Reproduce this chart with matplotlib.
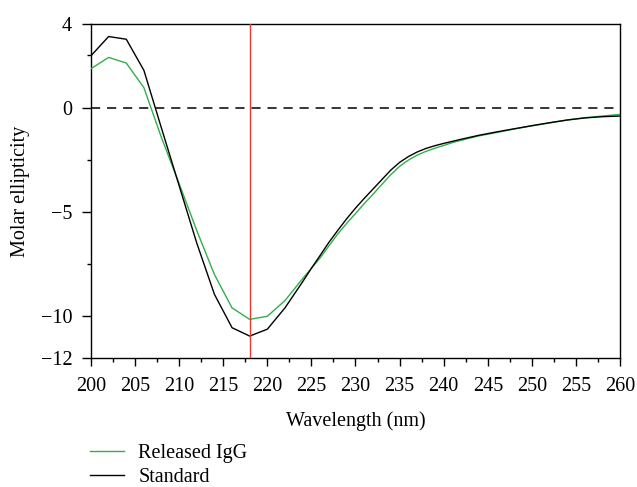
import matplotlib
matplotlib.use("Agg")
import matplotlib.pyplot as plt
from matplotlib.ticker import FixedLocator

wavelength = [200, 202, 204, 206, 208, 210, 212, 214, 216, 218, 220, 222, 224, 225, 226,
              227, 228, 229, 230, 231, 232, 233, 234, 235, 236, 237, 238, 239, 240, 241,
              242, 244, 246, 248, 250, 252, 254, 256, 258, 260]
standard = [2.48, 3.40, 3.27, 1.78, -1.0, -3.75, -6.5, -8.95, -10.55, -10.95, -10.62,
            -9.6, -8.35, -7.7, -7.08, -6.45, -5.88, -5.33, -4.82, -4.35, -3.9, -3.45,
            -3.0, -2.63, -2.35, -2.13, -1.96, -1.83, -1.72, -1.62, -1.52,
            -1.33, -1.17, -1.02, -0.87, -0.73, -0.6, -0.5, -0.44, -0.41]
released = [1.86, 2.40, 2.13, 0.95, -1.45, -3.65, -5.9, -8.0, -9.6, -10.15, -10.0,
            -9.25, -8.2, -7.7, -7.2, -6.62, -6.05, -5.55, -5.08, -4.6, -4.15, -3.68,
            -3.22, -2.82, -2.52, -2.28, -2.1, -1.95, -1.82, -1.68, -1.57,
            -1.36, -1.2, -1.03, -0.88, -0.74, -0.6, -0.49, -0.41, -0.33]
marker_wavelength = 218
y_major = [4, 0, -5, -10, -12]
y_minor = [2.5, -2.5, -7.5]
x_major = list(range(200, 261, 5))
x_minor = [x + 2.5 for x in range(200, 260, 5)]

plt.rcParams['font.family'] = ['Liberation Serif', 'DejaVu Serif']
fs = 14.5

W, H = 637, 487
fig = plt.figure(figsize=(W / 100, H / 100), dpi=100)
ax = fig.add_axes([91 / W, 1 - 358 / H, (620 - 91) / W, (358 - 24) / H])

green = '#2fb04a'
l1, = ax.plot(wavelength, released, color=green, lw=1.0, label='Released IgG', zorder=3)
l2, = ax.plot(wavelength, standard, color='black', lw=1.0, label='Standard', zorder=3)
ax.axhline(0, color='black', lw=1.1, dashes=(6, 4.5), zorder=2)
ax.axvline(marker_wavelength, color='#e53935', lw=1.0, zorder=4)

ax.set_xlim(200, 260)
ax.set_ylim(-12, 4)
ax.xaxis.set_major_locator(FixedLocator(x_major))
ax.xaxis.set_minor_locator(FixedLocator(x_minor))
ax.yaxis.set_major_locator(FixedLocator(y_major))
ax.yaxis.set_minor_locator(FixedLocator(y_minor))
ax.set_yticklabels(['4', '0', '\u22125', '\u221210', '\u221212'])

ax.tick_params(axis='x', which='major', length=5.5, width=1.0, direction='out',
               labelsize=fs, pad=8)
ax.tick_params(axis='x', which='minor', length=2.8, width=1.0, direction='out')
ax.tick_params(axis='y', which='major', length=6.5, width=1.0, direction='out',
               labelsize=fs, pad=7)
ax.tick_params(axis='y', which='minor', length=3, width=1.0, direction='out')
for s in ax.spines.values():
    s.set_linewidth(1.0)

ax.set_xlabel('Wavelength (nm)', fontsize=fs, labelpad=11)
ax.set_ylabel('Molar ellipticity', fontsize=fs, labelpad=8)

fig.legend(handles=[l1, l2], loc='upper left', bbox_to_anchor=(90 / W, 1 - 444 / H),
           frameon=False, fontsize=fs, handlelength=1.7, handletextpad=0.7,
           labelspacing=0.25, borderpad=0, borderaxespad=0)

fig.savefig('out.png', dpi=100)
